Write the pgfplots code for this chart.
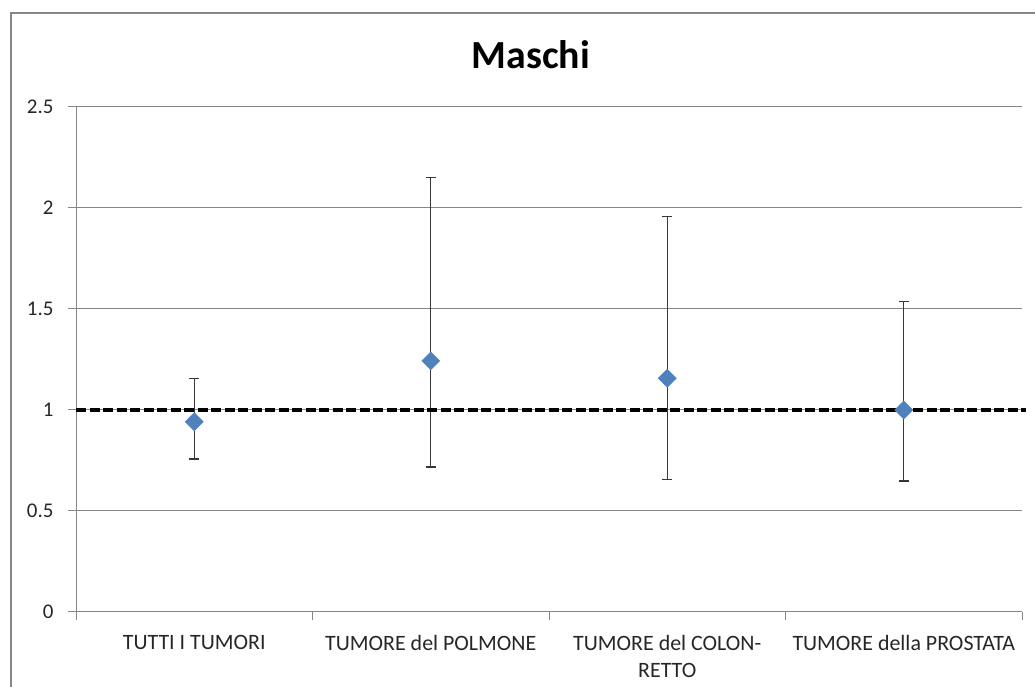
\documentclass[border=0pt]{standalone}
\usepackage{pgfplots}
\pgfplotsset{compat=1.18}
\usepackage{pgfplotstable}
\usepackage{fontspec}
\setmainfont{Carlito}

\definecolor{markblue}{RGB}{79,129,189}
\definecolor{gridgray}{RGB}{134,134,134}
\definecolor{framegray}{RGB}{134,134,134}
\definecolor{errgray}{RGB}{56,56,56}

% estimate, lower and upper bound of the ratio
\pgfplotstableread{
x  y      lo     hi
0  0.942  0.757  1.155
1  1.243  0.718  2.152
2  1.157  0.657  1.957
3  1.000  0.648  1.536
}\ratios

\begin{document}
\begin{tikzpicture}[x=1bp,y=1bp]
\useasboundingbox (0,0) rectangle (1035,687);
\clip (0,0) rectangle (1035,687);

% chart area frame
\draw[framegray, line width=2bp] (11,-10) -- (11,674.3) -- (1045,674.3);

% title
\node[anchor=base, font=\fontsize{40}{44}\selectfont\bfseries] at (531,618.5) {Maschi};

\begin{axis}[
  at={(76bp,75bp)}, anchor=south west,
  scale only axis, width=946bp, height=505bp,
  xmin=-0.5, xmax=3.5, ymin=0, ymax=2.5,
  clip=false,
  axis x line*=bottom, axis y line*=left,
  axis line style={gridgray, line width=1bp},
  ymajorgrids, major grid style={gridgray, line width=1bp},
  tick align=outside, major tick length=8bp,
  tick style={gridgray, line width=1bp},
  ytick={0,0.5,1,1.5,2,2.5},
  yticklabels={0,0.5,1,1.5,2,2.5},
  xtick={-0.5,0.5,1.5,2.5,3.5},
  x tick label as interval,
  xticklabels={TUTTI I TUMORI,TUMORE del POLMONE,{TUMORE del COLON-\\RETTO},TUMORE della PROSTATA},
  yticklabel style={font=\fontsize{21}{24}\selectfont, text=black!85, xshift=-11bp},
  xticklabel style={font=\fontsize{22}{26.5}\selectfont, text=black!85, align=center, anchor=north, yshift=-12bp},
]
% confidence intervals
\addplot[draw=none, forget plot,
  error bars/.cd, y dir=both, y explicit,
  error bar style={draw=errgray, line width=1.4bp},
  error mark options={draw=errgray, line width=1.4bp, mark size=5bp, rotate=90}]
  table[x=x, y=y,
        y error plus expr=\thisrow{hi}-\thisrow{y},
        y error minus expr=\thisrow{y}-\thisrow{lo}] {\ratios};
% point estimates
\addplot[only marks, mark=square*, mark size=6.4bp,
  mark options={rotate=45, fill=markblue, draw=markblue}]
  table[x=x, y=y] {\ratios};
% reference line at 1
\addplot[black, line width=3.2bp, dash pattern=on 10bp off 3.5bp]
  coordinates {(-0.5,1) (3.517,1)};
\end{axis}
\end{tikzpicture}
\end{document}
